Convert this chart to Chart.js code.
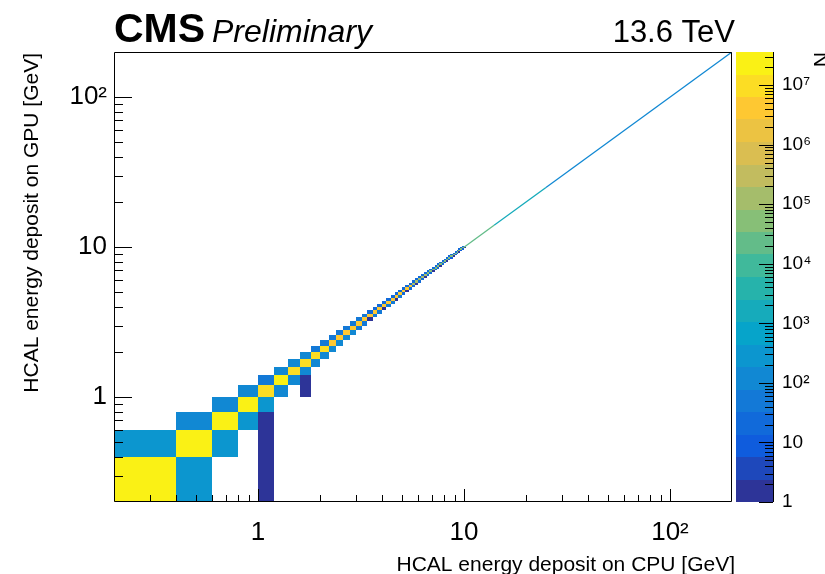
<!DOCTYPE html>
<html>
<head>
<meta charset="utf-8">
<script src="https://cdn.jsdelivr.net/npm/chart.js@4.4.1/dist/chart.umd.min.js"></script>
<style>
  html, body { margin: 0; padding: 0; background: #fff; }
  canvas { display: block; }
</style>
</head>
<body>
<canvas id="hcalChart" width="825" height="574"></canvas>
<script>
/* HCAL energy deposit GPU vs CPU — 2D histogram on log-log axes */
const binWidth = 0.2;            // GeV, same binning on both axes
const axisMin = 0.2, axisMax = 200;
const zMin = 1, zMax = 3.6e7;
const nLevels = 20;

const xTicks = [1, 10, 100];
const xTickLabels = ['1', '10', '10²'];
const yTicks = [1, 10, 100];
const yTickLabels = ['1', '10', '10²'];
const zTicks = [1, 10, 100, 1e3, 1e4, 1e5, 1e6, 1e7];
const zTickLabels = ['1', '10', '10²', '10³', '10⁴', '10⁵', '10⁶', '10⁷'];

// diagonal cells, k = 1..49 -> [0.2k, 0.2k+0.2] on both axes
const diagCounts = [
  2.5e7, 2.5e7, 2.5e7, 2.5e7, 1.1e7, 1.6e7, 1.5e7, 7e6, 7e6, 7e6,
  4e6, 4e6, 4e6, 4e6, 4e6, 4e6, 4e6, 4e6, 4e6, 4e6,
  4e6, 4e6, 4e6, 4e6, 4e6, 4e6, 4e6, 1.5e5, 1.5e5, 1.5e5,
  1.5e5, 1.5e5, 5e4, 5e4, 5e4, 5e4, 5e4, 5e4, 5e4, 5e4,
  5e4, 5e4, 5e4, 5e4, 5e4, 5e4, 5e4, 5e4, 5e4
];
// GPU one bin below CPU: cell x = k+1, y = k
const belowCounts = [
  300, 300, 300, 200, 150, 150, 120, 120, 100, 100,
  100, 80, 80, 60, 60, 2, 60, 40, 2, 40,
  40, 2, 40, 30, 2, 30, 30, 2, 20, 20,
  2, 20, 20, 2, 15, 15, 2, 15, 10, 2,
  10, 10, 2, 10, 10, 2, 8, 8, 2
];
// GPU one bin above CPU: cell x = k, y = k+1
const aboveCounts = [
  300, 100, 100, 100, 60, 80, 80, 80, 60, 60,
  60, 50, 50, 40, 40, 40, 30, 30, 30, 30,
  25, 25, 25, 25, 25, 25, 25, 25, 25, 25,
  20, 20, 20, 20, 20, 20, 20, 20, 20, 20,
  15, 15, 15, 15, 15, 15, 15, 15, 15
];
// isolated cells: [cpu low edge, gpu low edge, count]
const extraCells = [
  [1.0, 0.2, 1], [1.0, 0.4, 1], [1.0, 0.6, 1],
  [1.6, 1.0, 1], [1.6, 1.2, 1]
];
// above 10 GeV the bins are thinner than a pixel: [from, to, count per bin]
const lineSegments = [
  [10, 14, 2e4],
  [14, 25, 1.5e3],
  [25, 200, 150]
];

const xTitle = 'HCAL energy deposit on CPU [GeV]';
const yTitle = 'HCAL energy deposit on GPU [GeV]';
const zTitle = 'N';

// ROOT kBird palette
const birdStops = [0, 0.125, 0.25, 0.375, 0.5, 0.625, 0.75, 0.875, 1];
const birdR = [0.2082, 0.0592, 0.0780, 0.0232, 0.1802, 0.5301, 0.8186, 0.9956, 0.9764];
const birdG = [0.1664, 0.3599, 0.5041, 0.6419, 0.7178, 0.7492, 0.7328, 0.7862, 0.9832];
const birdB = [0.5293, 0.8684, 0.8385, 0.7914, 0.6425, 0.4662, 0.3499, 0.1968, 0.0539];

function birdColor(t) {
  let i = 0;
  while (i < birdStops.length - 2 && t > birdStops[i + 1]) i++;
  const f = (t - birdStops[i]) / (birdStops[i + 1] - birdStops[i]);
  const c = (a) => Math.round(255 * (a[i] + f * (a[i + 1] - a[i])));
  return `rgb(${c(birdR)},${c(birdG)},${c(birdB)})`;
}
const levelColor = (lv) => birdColor((lv + 0.5) / nLevels);
function levelOf(n) {
  const t = (Math.log10(n) - Math.log10(zMin)) / (Math.log10(zMax) - Math.log10(zMin));
  return Math.max(0, Math.min(nLevels - 1, Math.floor(t * nLevels)));
}
const countColor = (n) => levelColor(levelOf(n));

// collect cells [xLo, yLo, count]
const cells = [];
diagCounts.forEach((n, i) => { const k = i + 1; cells.push([k * binWidth, k * binWidth, n]); });
belowCounts.forEach((n, i) => { const k = i + 1; cells.push([(k + 1) * binWidth, k * binWidth, n]); });
aboveCounts.forEach((n, i) => { const k = i + 1; cells.push([k * binWidth, (k + 1) * binWidth, n]); });
extraCells.forEach((c) => cells.push(c));

const FONT = '"Liberation Sans", Arial, Helvetica, sans-serif';

const hist2d = {
  id: 'hist2d',
  beforeDatasetsDraw(chart) {
    const { ctx, chartArea: a, scales: { x, y } } = chart;
    ctx.save();
    ctx.beginPath();
    ctx.rect(a.left, a.top, a.right - a.left, a.bottom - a.top);
    ctx.clip();
    cells.forEach(([x0, y0, n]) => {
      const px0 = Math.round(x.getPixelForValue(Math.max(x0, axisMin)));
      const px1 = Math.round(x.getPixelForValue(x0 + binWidth));
      const py0 = Math.round(y.getPixelForValue(Math.max(y0, axisMin)));
      const py1 = Math.round(y.getPixelForValue(y0 + binWidth));
      ctx.fillStyle = countColor(n);
      ctx.fillRect(px0, py1, Math.max(1, px1 - px0), Math.max(1, py0 - py1));
    });
    ctx.restore();
  },
  beforeDraw(chart) {
    // colour bar sits under the z axis labels
    const { ctx, chartArea: a, scales: { z } } = chart;
    const cbL = 736, cbR = 773;
    ctx.save();
    for (let lv = 0; lv < nLevels; lv++) {
      const lo = Math.pow(10, Math.log10(zMin) + lv * (Math.log10(zMax) - Math.log10(zMin)) / nLevels);
      const hi = Math.pow(10, Math.log10(zMin) + (lv + 1) * (Math.log10(zMax) - Math.log10(zMin)) / nLevels);
      const p0 = Math.round(z.getPixelForValue(lo));
      const p1 = Math.round(z.getPixelForValue(hi));
      ctx.fillStyle = levelColor(lv);
      ctx.fillRect(cbL, p1, cbR - cbL, p0 - p1);
    }
    ctx.strokeStyle = '#000';
    ctx.lineWidth = 1;
    ctx.beginPath();
    ctx.moveTo(cbR + 0.5, a.top);
    ctx.lineTo(cbR + 0.5, a.bottom);
    for (let d = 0; d <= 7; d++) {
      for (let m = 1; m <= 9; m++) {
        const v = m * Math.pow(10, d);
        if (v > zMax) break;
        const py = Math.round(z.getPixelForValue(v)) + 0.5;
        ctx.moveTo(cbR, py);
        ctx.lineTo(cbR - (m === 1 ? 14 : 8), py);
      }
    }
    ctx.stroke();
    ctx.restore();
  },
  afterDraw(chart) {
    const { ctx, chartArea: a, scales: { x, y } } = chart;
    ctx.save();

    // frame
    ctx.strokeStyle = '#000';
    ctx.lineWidth = 1;
    ctx.beginPath();
    ctx.rect(a.left + 0.5, a.top + 0.5, a.right - a.left - 1, a.bottom - a.top - 1);
    // inner ticks
    for (let d = -1; d <= 2; d++) {
      for (let m = 1; m <= 9; m++) {
        const v = m * Math.pow(10, d);
        if (v <= axisMin || v >= axisMax) continue;
        const major = m === 1;
        const px = Math.round(x.getPixelForValue(v)) + 0.5;
        ctx.moveTo(px, a.bottom);
        ctx.lineTo(px, a.bottom - (major ? 13 : 7));
        const py = Math.round(y.getPixelForValue(v)) + 0.5;
        ctx.moveTo(a.left, py);
        ctx.lineTo(a.left + (major ? 18 : 9), py);
      }
    }
    ctx.stroke();

    // texts
    ctx.fillStyle = '#000';
    ctx.textBaseline = 'alphabetic';
    ctx.textAlign = 'left';
    ctx.font = `bold 41px ${FONT}`;
    ctx.fillText('CMS', 114, 42);
    ctx.font = `italic 32px ${FONT}`;
    ctx.fillText('Preliminary', 212, 42);
    ctx.textAlign = 'right';
    ctx.font = `31px ${FONT}`;
    ctx.fillText('13.6 TeV', 735, 42);

    ctx.font = `21px ${FONT}`;
    ctx.fillText(xTitle, 735, 571);

    ctx.save();
    ctx.translate(38, 53);
    ctx.rotate(-Math.PI / 2);
    ctx.fillText(yTitle, 0, 0);
    ctx.restore();

    ctx.save();
    ctx.translate(828, 52);
    ctx.rotate(-Math.PI / 2);
    ctx.font = `21px ${FONT}`;
    ctx.fillText(zTitle, 0, 0);
    ctx.restore();

    ctx.restore();
  }
};

const lineDatasets = lineSegments.map(([e0, e1, n]) => ({
  data: [{ x: e0, y: e0 }, { x: e1, y: e1 }],
  showLine: true,
  borderColor: countColor(n),
  borderWidth: 1.3,
  pointRadius: 0,
}));

const tickFont = { family: FONT, size: 26 };
const noEdgePadding = (s) => {
  s.paddingTop = 0; s.paddingBottom = 0; s.paddingLeft = 0; s.paddingRight = 0;
};

new Chart(document.getElementById('hcalChart'), {
  type: 'scatter',
  data: { datasets: lineDatasets },
  options: {
    responsive: false,
    animation: false,
    devicePixelRatio: 1,
    layout: { padding: { top: 52, left: 0, right: 0, bottom: 0 } },
    plugins: { legend: { display: false }, tooltip: { enabled: false } },
    scales: {
      x: {
        type: 'logarithmic',
        min: axisMin,
        max: axisMax,
        afterFit: (s) => { s.height = 72; noEdgePadding(s); },
        afterBuildTicks: (s) => { s.ticks = xTicks.map((v) => ({ value: v })); },
        grid: { display: false, drawTicks: false },
        border: { display: false },
        ticks: { color: '#000', font: tickFont, padding: 15, maxRotation: 0, autoSkip: false,
          callback: (v, i) => xTickLabels[i] },
      },
      y: {
        type: 'logarithmic',
        min: axisMin,
        max: axisMax,
        afterFit: (s) => { s.width = 114; noEdgePadding(s); },
        afterBuildTicks: (s) => { s.ticks = yTicks.map((v) => ({ value: v })); },
        grid: { display: false, drawTicks: false },
        border: { display: false },
        ticks: { color: '#000', font: tickFont, padding: 7, autoSkip: false,
          callback: (v, i) => yTickLabels[i] },
      },
      z: {
        type: 'logarithmic',
        position: 'right',
        min: zMin,
        max: zMax,
        afterFit: (s) => { s.width = 93; noEdgePadding(s); },
        afterBuildTicks: (s) => { s.ticks = zTicks.map((v) => ({ value: v })); },
        grid: { display: false, drawTicks: false },
        border: { display: false },
        ticks: { color: '#000', font: { family: FONT, size: 19 }, padding: 50, autoSkip: false,
          callback: (v, i) => zTickLabels[i] },
      },
    },
  },
  plugins: [hist2d],
});
</script>
</body>
</html>
